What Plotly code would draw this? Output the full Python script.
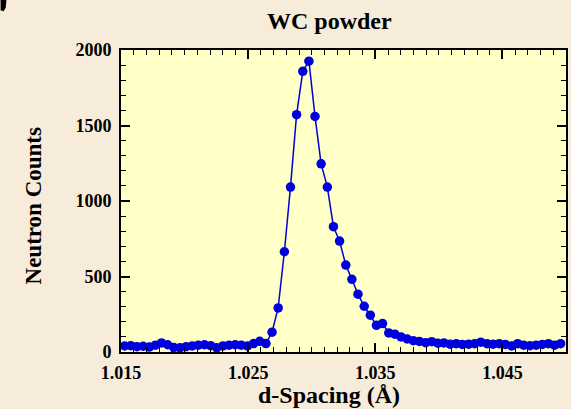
import plotly.graph_objects as go

d_spacing = [
    1.01529, 1.01577, 1.01626, 1.01674, 1.01722, 1.01770, 1.01819, 1.01867,
    1.01915, 1.01964, 1.02012, 1.02060, 1.02108, 1.02157, 1.02205, 1.02253,
    1.02302, 1.02350, 1.02398, 1.02446, 1.02495, 1.02543, 1.02591, 1.02640,
    1.02688, 1.02736, 1.02785, 1.02833, 1.02881, 1.02930, 1.02978, 1.03026,
    1.03074, 1.03123, 1.03171, 1.03219, 1.03268, 1.03316, 1.03364, 1.03413,
    1.03461, 1.03509, 1.03557, 1.03606, 1.03654, 1.03702, 1.03751, 1.03799,
    1.03847, 1.03896, 1.03944, 1.03992, 1.04040, 1.04089, 1.04137, 1.04185,
    1.04234, 1.04282, 1.04330, 1.04379, 1.04427, 1.04475, 1.04523, 1.04572,
    1.04620, 1.04668, 1.04717, 1.04765, 1.04813, 1.04862, 1.04910, 1.04958,
]
counts = [
    40, 42, 35, 38, 33, 45, 60, 48,
    30, 28, 35, 40, 45, 48, 42, 28,
    40, 45, 48, 45, 40, 56, 71, 56,
    131, 292, 664, 1092, 1572, 1859, 1926, 1560,
    1246, 1092, 830, 735, 576, 481, 383, 303,
    244, 177, 188, 126, 118, 100, 86, 75,
    70, 62, 68, 58, 60, 52, 55, 50,
    52, 55, 65, 55, 52, 55, 50, 40,
    55, 45, 42, 45, 50, 55, 45, 55,
]

x_ticks = [1.015, 1.025, 1.035, 1.045]
x_ticklabels = ["1.015", "1.025", "1.035", "1.045"]
y_ticks = [0, 500, 1000, 1500, 2000]
y_ticklabels = ["0", "500", "1000", "1500", "2000"]

title_text = "WC powder"
x_title = "d-Spacing (Å)"
y_title = "Neutron Counts"

FONT = "Times New Roman, Liberation Serif, serif"
BLUE = "#0000dc"

fig = go.Figure()
fig.add_trace(go.Scatter(
    x=d_spacing, y=counts, mode="lines+markers",
    line=dict(color=BLUE, width=1.5),
    marker=dict(color=BLUE, size=9.5),
    showlegend=False, cliponaxis=True,
))

axis_common = dict(
    showline=True, linecolor="black", linewidth=2, mirror="allticks",
    ticks="inside", ticklen=9, tickwidth=1.5, tickcolor="black",
    showgrid=False, zeroline=False,
    tickfont=dict(family=FONT, size=18, color="black", weight="bold"),
)

fig.update_xaxes(
    range=[1.015, 1.050], tickmode="array", tickvals=x_ticks, ticktext=x_ticklabels,
    ticklabelstandoff=3,
    minor=dict(ticks="inside", ticklen=5, tickwidth=1.2, tickcolor="black", dtick=0.001, tick0=1.015, showgrid=False),
    **axis_common,
)
fig.update_yaxes(
    range=[0, 2000], tickmode="array", tickvals=y_ticks, ticktext=y_ticklabels,
    ticklabelstandoff=4,
    minor=dict(ticks="inside", ticklen=5, tickwidth=1.2, tickcolor="black", dtick=100, tick0=0, showgrid=False),
    **axis_common,
)

fig.update_layout(
    width=571, height=409,
    margin=dict(l=121, r=3, t=50, b=57),
    paper_bgcolor="#f7ecd9",
    plot_bgcolor="#ffffc8",
    font=dict(family=FONT, color="black"),
    shapes=[
        dict(type="path", xref="paper", yref="paper",
             path="M -0.2707 1.166 L -0.2575 1.166 L -0.2590 1.140 L -0.2640 1.128 L -0.2707 1.132 Z",
             fillcolor="black", line=dict(width=0), layer="above"),
    ],
    annotations=[
        dict(text=title_text, xref="paper", yref="paper", x=0.4676, y=1.096,
             xanchor="center", yanchor="middle", showarrow=False,
             font=dict(family=FONT, size=24, color="black", weight="bold")),
        dict(text=x_title, xref="paper", yref="paper", x=0.4676, y=-0.142,
             xanchor="center", yanchor="middle", showarrow=False,
             font=dict(family=FONT, size=24, color="black", weight="bold")),
        dict(text=y_title, xref="paper", yref="paper", x=-0.197, y=0.483,
             xanchor="center", yanchor="middle", showarrow=False, textangle=-90,
             font=dict(family=FONT, size=23, color="black", weight="bold")),
    ],
)

fig.write_html("out.html")
